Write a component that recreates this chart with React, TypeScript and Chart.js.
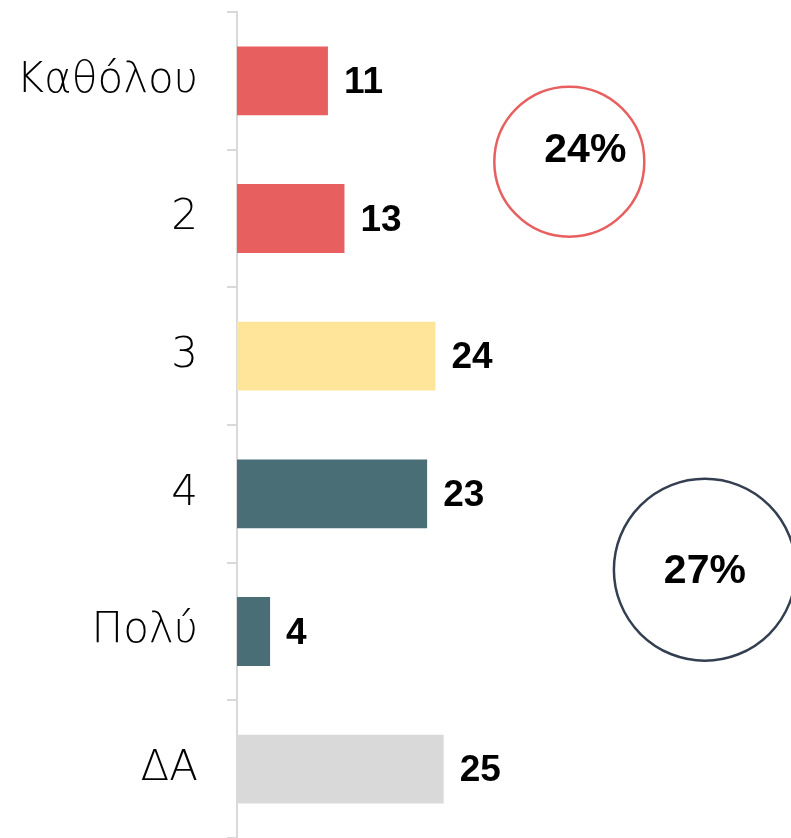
import React, { useEffect, useRef } from "react";
import { Chart, registerables } from "chart.js";

Chart.register(...registerables);

const categories = ["Καθόλου", "2", "3", "4", "Πολύ", "ΔΑ"];
const values = [11, 13, 24, 23, 4, 25];
const barColors = ["#E85F5F", "#E85F5F", "#FFE599", "#4A6E75", "#4A6E75", "#D9D9D9"];
const summaryLabels = ["24%", "27%"];
const summaryGroups = [[0, 1], [3, 4]];
const summaryColors = ["#E85F5F", "#333F50"];

const LABEL_FONT = "'DejaVu Sans', 'Open Sans', sans-serif";
const VALUE_FONT = "'Liberation Sans', Arial, sans-serif";

const valueLabelPlugin = {
  id: "valueLabels",
  afterDatasetsDraw(chart: any) {
    const ctx = chart.ctx;
    const meta = chart.getDatasetMeta(0);
    ctx.save();
    ctx.font = `bold 37px ${VALUE_FONT}`;
    ctx.fillStyle = "#000";
    ctx.textAlign = "left";
    ctx.textBaseline = "middle";
    meta.data.forEach((bar: any, i: number) => {
      ctx.fillText(String(values[i]), bar.x + 16, bar.y + 2);
    });
    ctx.restore();
  },
};

const summaryOpts = [
  { xValue: 40.2, yShift: 12, radius: 75, textDx: 16, textDy: -11 },
  { xValue: 56.6, yShift: 7, radius: 91, textDx: 0, textDy: 2 },
];

const summaryPlugin = {
  id: "summaryCircles",
  afterDraw(chart: any) {
    const ctx = chart.ctx;
    const xs = chart.scales.x;
    const ys = chart.scales.y;
    ctx.save();
    summaryGroups.forEach((g, i) => {
      const o = summaryOpts[i];
      const cy = (ys.getPixelForValue(g[0]) + ys.getPixelForValue(g[1])) / 2 + o.yShift;
      const cx = xs.getPixelForValue(o.xValue);
      ctx.beginPath();
      ctx.arc(cx, cy, o.radius, 0, Math.PI * 2);
      ctx.lineWidth = 2.5;
      ctx.strokeStyle = summaryColors[i];
      ctx.stroke();
      ctx.font = `bold 41px ${VALUE_FONT}`;
      ctx.fillStyle = "#000";
      ctx.textAlign = "center";
      ctx.textBaseline = "middle";
      ctx.fillText(summaryLabels[i], cx + o.textDx, cy + o.textDy);
    });
    ctx.restore();
  },
};

export default function App() {
  const ref = useRef<HTMLCanvasElement | null>(null);
  useEffect(() => {
    if (!ref.current) return;
    const chart = new Chart(ref.current, {
      type: "bar",
      data: {
        labels: categories,
        datasets: [
          {
            data: values,
            backgroundColor: barColors,
            borderWidth: 0,
            categoryPercentage: 1,
            barPercentage: 0.5,
          },
        ],
      },
      options: {
        indexAxis: "y",
        animation: false,
        responsive: false,
        maintainAspectRatio: false,
        layout: { padding: { top: 12, right: 306, bottom: 0, left: 0 } },
        plugins: { legend: { display: false }, tooltip: { enabled: false } },
        scales: {
          x: { display: false, min: 0, max: 30 },
          y: {
            afterFit(scale: any) {
              scale.width = 237;
              scale.paddingTop = 0;
              scale.paddingBottom = 0;
            },
            grid: {
              drawOnChartArea: false,
              drawTicks: true,
              tickLength: 10,
              color: "#D9D9D9",
              lineWidth: 2,
            },
            border: { display: true, color: "#D9D9D9", width: 2 },
            ticks: {
              color: "#000",
              padding: 29,
              font: { family: LABEL_FONT, size: 42, weight: "300" },
            },
          },
        },
      },
      plugins: [valueLabelPlugin, summaryPlugin],
    });
    return () => chart.destroy();
  }, []);
  return (
    <div style={{ position: "absolute", left: 0, top: 0, width: 791, height: 838 }}>
      <canvas ref={ref} width={791} height={838} />
    </div>
  );
}
